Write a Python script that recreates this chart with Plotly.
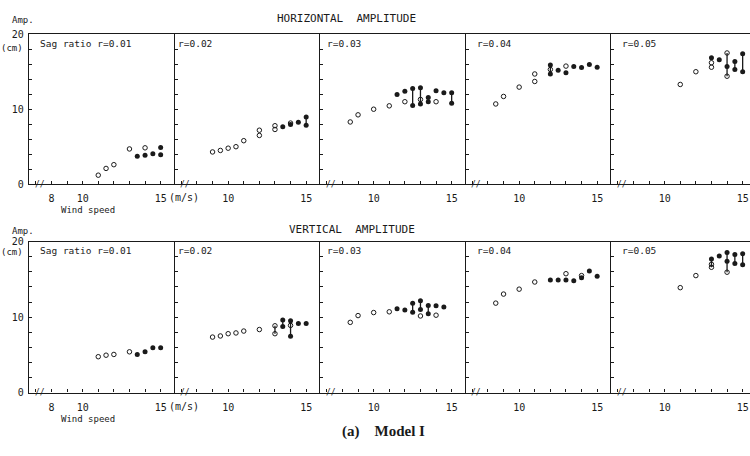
import plotly.graph_objects as go

# ---------------- data (wind speed m/s, amplitude cm) ----------------
ratio_labels = ["Sag ratio r=0.01", "r=0.02", "r=0.03", "r=0.04", "r=0.05"]
row_titles = ["HORIZONTAL  AMPLITUDE", "VERTICAL  AMPLITUDE"]

# Horizontal amplitude
H1_open_x = [11.0, 11.5, 12.0, 13.0, 14.0]
H1_open_y = [1.2, 2.1, 2.6, 4.7, 4.85]
H1_fill_x = [13.5, 14.0, 14.5, 15.0, 15.0]
H1_fill_y = [3.72, 3.85, 4.07, 4.9, 3.94]
H1_bar_x, H1_bar_lo, H1_bar_hi = [], [], []

H2_open_x = [9.0, 9.5, 10.0, 10.5, 11.0, 12.0, 12.0, 13.0, 13.0, 14.0]
H2_open_y = [4.3, 4.5, 4.8, 5.0, 5.8, 7.2, 6.5, 7.8, 7.3, 8.15]
H2_fill_x = [13.5, 14.0, 14.5, 15.0, 15.0]
H2_fill_y = [7.65, 7.95, 8.25, 8.95, 7.85]
H2_bar_x, H2_bar_lo, H2_bar_hi = [15.0], [7.85], [8.95]

H3_open_x = [8.5, 9.0, 10.0, 11.0, 12.0, 13.0, 14.0]
H3_open_y = [8.3, 9.25, 10.0, 10.45, 11.0, 11.3, 11.0]
H3_fill_x = [11.5, 12.0, 12.5, 12.5, 13.0, 13.0, 13.5, 13.5, 14.0, 14.5, 15.0, 15.0]
H3_fill_y = [11.95, 12.4, 12.75, 10.5, 12.85, 10.7, 11.55, 11.0, 12.45, 12.2, 12.2, 10.8]
H3_bar_x, H3_bar_lo, H3_bar_hi = [12.5, 13.0, 13.5, 15.0], [10.5, 10.7, 11.0, 10.8], [12.75, 12.85, 11.55, 12.2]

H4_open_x = [8.5, 9.0, 10.0, 11.0, 11.0, 12.0, 13.0]
H4_open_y = [10.7, 11.7, 12.95, 13.7, 14.7, 15.3, 15.75]
H4_fill_x = [12.0, 12.0, 12.5, 13.0, 13.5, 14.0, 14.5, 15.0]
H4_fill_y = [15.9, 14.7, 15.2, 14.85, 15.7, 15.55, 15.95, 15.6]
H4_bar_x, H4_bar_lo, H4_bar_hi = [12.0], [14.7], [15.9]

H5_open_x = [11.0, 12.0, 13.0, 13.0, 14.0, 14.0]
H5_open_y = [13.3, 15.0, 16.2, 15.6, 17.5, 14.4]
H5_fill_x = [13.0, 13.5, 14.0, 14.5, 14.5, 15.0, 15.0]
H5_fill_y = [16.85, 16.6, 15.7, 16.35, 15.3, 17.4, 15.0]
H5_bar_x, H5_bar_lo, H5_bar_hi = [14.0, 14.5, 15.0], [14.4, 15.3, 15.0], [17.5, 16.35, 17.4]

# Vertical amplitude
V1_open_x = [11.0, 11.5, 12.0, 13.0]
V1_open_y = [4.75, 4.95, 5.05, 5.4]
V1_fill_x = [13.5, 14.0, 14.5, 15.0]
V1_fill_y = [5.05, 5.4, 5.95, 5.95]
V1_bar_x, V1_bar_lo, V1_bar_hi = [], [], []

V2_open_x = [9.0, 9.5, 10.0, 10.5, 11.0, 12.0, 13.0, 13.0, 14.0]
V2_open_y = [7.35, 7.5, 7.8, 7.9, 8.15, 8.35, 8.85, 7.8, 8.9]
V2_fill_x = [13.5, 13.5, 14.0, 14.0, 14.5, 15.0]
V2_fill_y = [9.6, 8.75, 9.5, 7.45, 9.15, 9.15]
V2_bar_x, V2_bar_lo, V2_bar_hi = [13.0, 13.5, 14.0], [7.8, 8.75, 7.45], [8.85, 9.6, 9.5]

V3_open_x = [8.5, 9.0, 10.0, 11.0, 13.0, 14.0]
V3_open_y = [9.3, 10.2, 10.6, 10.7, 10.15, 10.25]
V3_fill_x = [11.5, 12.0, 12.5, 12.5, 13.0, 13.0, 13.5, 13.5, 14.0, 14.5]
V3_fill_y = [11.1, 10.95, 11.85, 10.65, 12.15, 11.0, 11.55, 10.45, 11.5, 11.35]
V3_bar_x, V3_bar_lo, V3_bar_hi = [12.5, 13.0, 13.5], [10.65, 11.0, 10.45], [11.85, 12.15, 11.55]

V4_open_x = [8.5, 9.0, 10.0, 11.0, 13.0, 14.0]
V4_open_y = [11.85, 13.05, 13.7, 14.65, 15.75, 15.5]
V4_fill_x = [12.0, 12.5, 13.0, 13.5, 14.0, 14.5, 15.0]
V4_fill_y = [14.9, 14.9, 14.9, 14.8, 15.2, 16.1, 15.4]
V4_bar_x, V4_bar_lo, V4_bar_hi = [], [], []

V5_open_x = [11.0, 12.0, 13.0, 13.0, 14.0]
V5_open_y = [13.9, 15.5, 17.0, 16.6, 15.95]
V5_fill_x = [13.0, 13.5, 14.0, 14.0, 14.5, 14.5, 15.0, 15.0]
V5_fill_y = [17.7, 18.1, 18.55, 17.4, 18.3, 17.1, 18.4, 16.95]
V5_bar_x, V5_bar_lo, V5_bar_hi = [13.0, 14.0, 14.5, 15.0], [16.6, 15.95, 17.1, 16.95], [17.7, 18.55, 18.3, 18.4]

panels = [
    (H1_open_x, H1_open_y, H1_fill_x, H1_fill_y, H1_bar_x, H1_bar_lo, H1_bar_hi),
    (H2_open_x, H2_open_y, H2_fill_x, H2_fill_y, H2_bar_x, H2_bar_lo, H2_bar_hi),
    (H3_open_x, H3_open_y, H3_fill_x, H3_fill_y, H3_bar_x, H3_bar_lo, H3_bar_hi),
    (H4_open_x, H4_open_y, H4_fill_x, H4_fill_y, H4_bar_x, H4_bar_lo, H4_bar_hi),
    (H5_open_x, H5_open_y, H5_fill_x, H5_fill_y, H5_bar_x, H5_bar_lo, H5_bar_hi),
    (V1_open_x, V1_open_y, V1_fill_x, V1_fill_y, V1_bar_x, V1_bar_lo, V1_bar_hi),
    (V2_open_x, V2_open_y, V2_fill_x, V2_fill_y, V2_bar_x, V2_bar_lo, V2_bar_hi),
    (V3_open_x, V3_open_y, V3_fill_x, V3_fill_y, V3_bar_x, V3_bar_lo, V3_bar_hi),
    (V4_open_x, V4_open_y, V4_fill_x, V4_fill_y, V4_bar_x, V4_bar_lo, V4_bar_hi),
    (V5_open_x, V5_open_y, V5_fill_x, V5_fill_y, V5_bar_x, V5_bar_lo, V5_bar_hi),
]

# ---------------- layout geometry (pixels) ----------------
W, H = 750, 456
MONO = "DejaVu Sans Mono"
INK = "#1a1a1a"
col_left = [29, 174.5, 320, 465.5, 611]
col_width = 145.5
px_per_ms = 15.6
x_min = 6.56
row_top = [29, 242]      # pixel of 20 cm
row_bot = [183, 397]     # pixel of 0 cm


def px(x):
    return x / W


def py(y):
    return 1 - y / H


fig = go.Figure()
layout = {}
annotations = []

for k, (ox, oy, fx, fy, bx, blo, bhi) in enumerate(panels):
    r, c = divmod(k, 5)
    idx = k + 1
    xa = "x" if idx == 1 else f"x{idx}"
    ya = "y" if idx == 1 else f"y{idx}"
    left = col_left[c]
    right = min(left + col_width, W)
    x_max = x_min + (right - left) / px_per_ms

    # range bars
    lx, ly = [], []
    for xb, lo, hi in zip(bx, blo, bhi):
        lx += [xb, xb, None]
        ly += [lo, hi, None]
    if lx:
        fig.add_trace(go.Scatter(x=lx, y=ly, mode="lines", xaxis=xa, yaxis=ya,
                                 line=dict(color=INK, width=1.3), showlegend=False,
                                 hoverinfo="skip"))
    fig.add_trace(go.Scatter(x=ox, y=oy, mode="markers", xaxis=xa, yaxis=ya,
                             marker=dict(symbol="circle-open", size=4.5, color=INK,
                                         line=dict(width=1, color=INK)),
                             showlegend=False))
    fig.add_trace(go.Scatter(x=fx, y=fy, mode="markers", xaxis=xa, yaxis=ya,
                             marker=dict(symbol="circle", size=5, color=INK),
                             showlegend=False))

    xticks = list(range(7, 16))
    if c == 0:
        xtext = ["8" if t == 8 else "10" if t == 10 else "15" if t == 15 else "" for t in xticks]
    else:
        xtext = ["10" if t == 10 else "15" if t == 15 else "" for t in xticks]
    layout["xaxis" if idx == 1 else f"xaxis{idx}"] = dict(
        domain=[px(left), px(right)], range=[x_min, x_max], anchor=ya,
        showline=True, linecolor=INK, linewidth=1.2, mirror=True,
        ticks="inside", ticklen=3, tickwidth=1, tickcolor=INK,
        tickvals=xticks, ticktext=xtext, showgrid=False, zeroline=False,
        ticklabeloverflow="allow", ticklabelstandoff=5,
        tickfont=dict(family=MONO, size=10, color=INK), fixedrange=True,
    )
    yticks = list(range(0, 21, 2))
    ytext = [str(t) if (c == 0 and t in (0, 10, 20)) else "" for t in yticks]
    layout["yaxis" if idx == 1 else f"yaxis{idx}"] = dict(
        domain=[py(row_bot[r]), py(row_top[r])], range=[0, 20], anchor=xa,
        showline=True, linecolor=INK, linewidth=1.2,
        ticks="inside", ticklen=3, tickwidth=1, tickcolor=INK,
        tickvals=yticks, ticktext=ytext, showgrid=False, zeroline=False,
        ticklabeloverflow="allow", ticklabelstandoff=2,
        tickfont=dict(family=MONO, size=10, color=INK), fixedrange=True,
    )
    # break mark on x axis
    annotations.append(dict(x=7.25, y=0, xref=xa, yref=ya, text="//", showarrow=False,
                            font=dict(family=MONO, size=8, color=INK),
                            xanchor="center", yanchor="middle"))
    # ratio label
    lab_off = 9 if c in (0, 3, 4) else (1 if c == 1 else 5)
    annotations.append(dict(x=px(left + lab_off), y=py(row_top[r] + 9), xref="paper", yref="paper",
                            text=ratio_labels[c], showarrow=False, xanchor="left", yanchor="middle",
                            font=dict(family=MONO, size=9.5, color=INK)))

# row titles and axis captions
for r, (ty, title_x) in enumerate([(13, 346), (230, 352)]):
    annotations.append(dict(x=px(title_x), y=py(ty), xref="paper", yref="paper", text=row_titles[r],
                            showarrow=False, xanchor="center", yanchor="middle",
                            font=dict(family=MONO, size=11, color=INK)))
    annotations.append(dict(x=px(23), y=py(ty + 1), xref="paper", yref="paper", text="Amp.",
                            showarrow=False, xanchor="center", yanchor="middle",
                            font=dict(family=MONO, size=9, color=INK)))
    annotations.append(dict(x=px(12), y=py(row_top[r] + (14 if r == 0 else 11)), xref="paper", yref="paper",
                            text="(cm)", showarrow=False, xanchor="center", yanchor="middle",
                            font=dict(family=MONO, size=9, color=INK)))
    annotations.append(dict(x=px(167), y=py(row_bot[r] + 14), xref="paper", yref="paper", text="(m/s)",
                            showarrow=False, xanchor="left", yanchor="middle",
                            font=dict(family=MONO, size=10, color=INK)))
    annotations.append(dict(x=px(88), y=py(row_bot[r] + 27), xref="paper", yref="paper", text="Wind speed",
                            showarrow=False, xanchor="center", yanchor="middle",
                            font=dict(family=MONO, size=9, color=INK)))

annotations.append(dict(x=px(383), y=py(437), xref="paper", yref="paper",
                        text="<b>(a)</b>&nbsp;&nbsp;&nbsp;&nbsp;<b>Model I</b>", showarrow=False,
                        xanchor="center", yanchor="middle",
                        font=dict(family="Liberation Serif", size=15, color=INK)))

fig.update_layout(
    width=W, height=H, margin=dict(l=0, r=0, t=0, b=0),
    paper_bgcolor="white", plot_bgcolor="white",
    annotations=annotations, showlegend=False, **layout,
)

fig.write_html("out.html", config={"displayModeBar": False},
               post_script="document.body.style.margin='0';document.body.style.overflow='hidden';")
